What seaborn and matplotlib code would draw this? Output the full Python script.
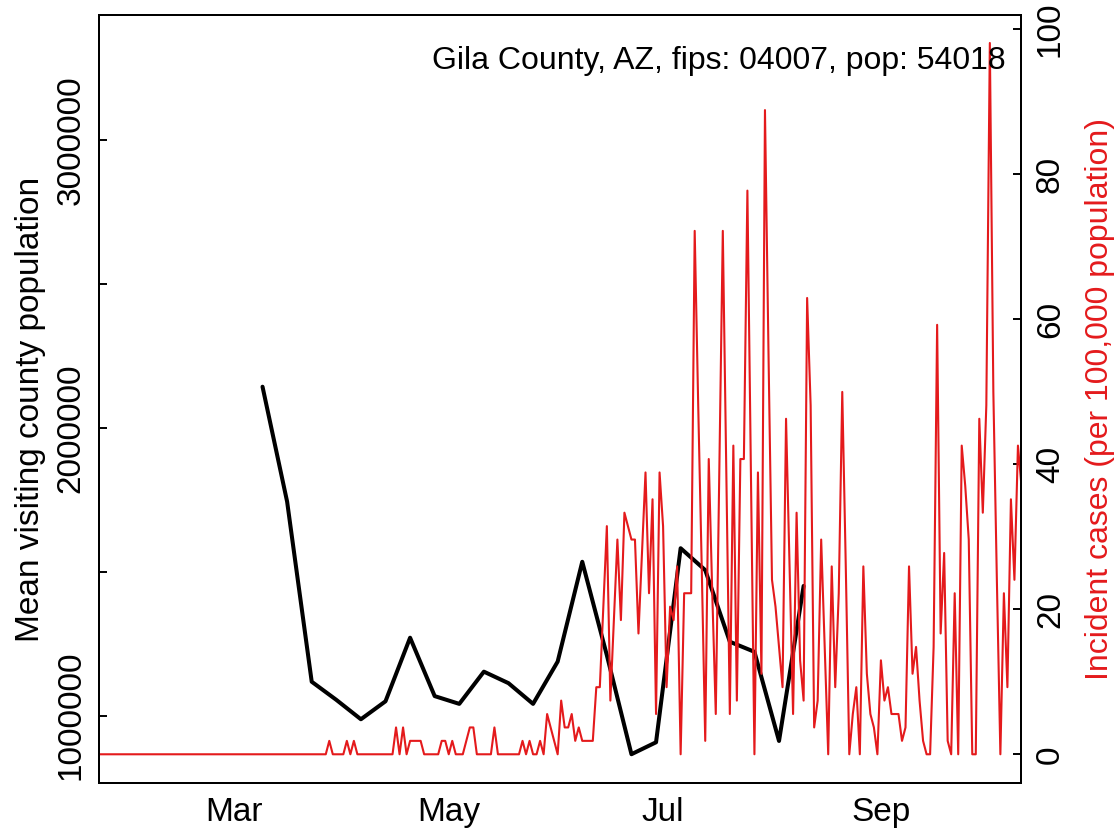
import matplotlib
matplotlib.use("Agg")
import matplotlib.pyplot as plt
import numpy as np
import pandas as pd
import seaborn as sns

# ---------------- data ----------------
county_label = "Gila County, AZ, fips: 04007, pop: 54018"
population = 54018

# weekly mean visiting county population (black)
visit_start = "2020-03-09"
visit_values = [2143500, 1744000, 1118000, 1055000, 987500, 1050000, 1271000,
                1068000, 1041000, 1153000, 1113000, 1041000, 1188000, 1535000,
                1210000, 866000, 907500, 1582000, 1506000, 1257000, 1222000,
                912000, 1451000]

# daily incident cases (counts) starting 2020-01-22 (red)
case_start = "2020-01-22"
cases_jan_feb = [
    0, 0, 0, 0, 0, 0, 0, 0, 0, 0,
    0, 0, 0, 0, 0, 0, 0, 0, 0, 0,
    0, 0, 0, 0, 0, 0, 0, 0, 0, 0,
    0, 0, 0, 0, 0, 0, 0, 0, 0]
cases_mar = [0, 0, 0, 0, 0, 0, 0, 0, 0, 0,
             0, 0, 0, 0, 0, 0, 0, 0, 0, 0,
             0, 0, 0, 0, 0, 0, 0, 1, 0, 0, 0]
cases_apr = [0, 1, 0, 1, 0, 0, 0, 0, 0, 0, 0, 0, 0, 0, 0,
             2, 0, 2, 0, 1, 1, 1, 1, 0, 0, 0, 0, 0, 1, 1]
cases_may = [0, 1, 0, 0, 0, 1, 2, 2, 0, 0, 0, 0, 0, 2, 0, 0,
             0, 0, 0, 0, 0, 1, 0, 1, 0, 0, 1, 0, 3, 2, 1]
cases_jun = [0, 4, 2, 2, 3, 1, 2, 1, 1, 1, 1, 5, 5, 11, 17,
             4, 10, 16, 10, 18, 17, 16, 16, 9, 15, 21, 12, 19, 3, 21]
cases_jul = [17, 5, 11, 10, 14, 0, 12, 12, 12, 39, 26, 14, 1, 22, 12, 3,
             21, 39, 21, 3, 23, 4, 22, 22, 42, 21, 0, 21, 6, 48, 30]
cases_aug = [13, 11, 8, 5, 25, 14, 3, 18, 7, 4, 34, 26, 2, 4, 16, 8,
             0, 14, 5, 12, 27, 14, 0, 3, 5, 0, 14, 6, 3, 2, 0]
cases_sep = [7, 4, 5, 3, 3, 3, 1, 2, 14, 6, 8, 4, 1, 0, 0,
             8, 32, 9, 15, 1, 0, 12, 0, 23, 20, 16, 0, 0, 25, 18]
cases_oct = [26, 53, 27, 13, 0, 12, 5, 19, 13, 23, 20]

month_ticks = ["2020-03-01", "2020-05-01", "2020-07-01", "2020-09-01"]
month_labels = ["Mar", "May", "Jul", "Sep"]

left_ticks = [1000000, 1500000, 2000000, 2500000, 3000000]
left_labels = ["1000000", "", "2000000", "", "3000000"]
right_ticks = [0, 20, 40, 60, 80, 100]

# ---------------- frames ----------------
case_counts = (cases_jan_feb + cases_mar + cases_apr + cases_may + cases_jun
               + cases_jul + cases_aug + cases_sep + cases_oct)
cases_df = pd.DataFrame({
    "date": pd.date_range(case_start, periods=len(case_counts), freq="D"),
    "rate": np.array(case_counts, dtype=float) * 100000 / population,
})
visit_df = pd.DataFrame({
    "date": pd.date_range(visit_start, periods=len(visit_values), freq="7D"),
    "visit": visit_values,
})

# ---------------- style ----------------
sns.set_style("white")
plt.rcParams["font.family"] = ["Liberation Sans", "DejaVu Sans"]
for k in ("text.color", "axes.labelcolor", "xtick.color", "ytick.color"):
    plt.rcParams[k] = "black"
FS = 24
RED = "#E41A1C"

fig = plt.figure(figsize=(11.19, 8.31), dpi=100)
W, H = 1119, 831
L, R, T, B = 99, 1021, 14.6, 782.7
ax = fig.add_axes([L / W, (H - B) / H, (R - L) / W, (B - T) / H])
ax2 = ax.twinx()

sns.lineplot(data=visit_df, x="date", y="visit", ax=ax, color="black",
             linewidth=2.9, solid_capstyle="round", solid_joinstyle="round")
sns.lineplot(data=cases_df, x="date", y="rate", ax=ax2, color=RED,
             linewidth=1.5, solid_joinstyle="round")

mar1 = pd.Timestamp("2020-03-01")
for a in (ax, ax2):
    a.set_xlim(mar1 - pd.Timedelta(days=38.54), mar1 + pd.Timedelta(days=223.87))
ax.set_ylim(767000, 3437000)
ax2.set_ylim(-3.92, 102.03)

ax.set_xticks(pd.to_datetime(month_ticks))
ax.set_xticklabels(month_labels, fontsize=FS)
ax.set_yticks(left_ticks)
ax.set_yticklabels(left_labels, fontsize=FS, rotation=90, va="center")
ax2.set_yticks(right_ticks)
ax2.set_yticklabels([str(v) for v in right_ticks], fontsize=FS, rotation=90,
                    va="center")

ax.tick_params(axis="both", direction="in", length=5.8, width=1.4, pad=9,
               colors="black")
ax.tick_params(axis="x", pad=10)
ax2.tick_params(axis="y", direction="in", length=5.8, width=1.4, pad=10,
                colors="black")

ax.set_xlabel("")
ax.set_ylabel("Mean visiting county population", fontsize=FS, color="black")
ax.yaxis.set_label_coords(-0.0575, 0.486)
ax2.set_ylabel("Incident cases (per 100,000 population)", fontsize=23,
               color=RED, rotation=90)
ax2.yaxis.set_label_coords(1.0694, 0.5)

for a in (ax, ax2):
    for s in a.spines.values():
        s.set_visible(True)
        s.set_color("black")
        s.set_linewidth(1.4)

fig.text(1006 / W, (H - 69) / H, county_label, fontsize=23, ha="right",
         va="baseline", color="black")

fig.savefig("out.png", dpi=100, facecolor="white")
